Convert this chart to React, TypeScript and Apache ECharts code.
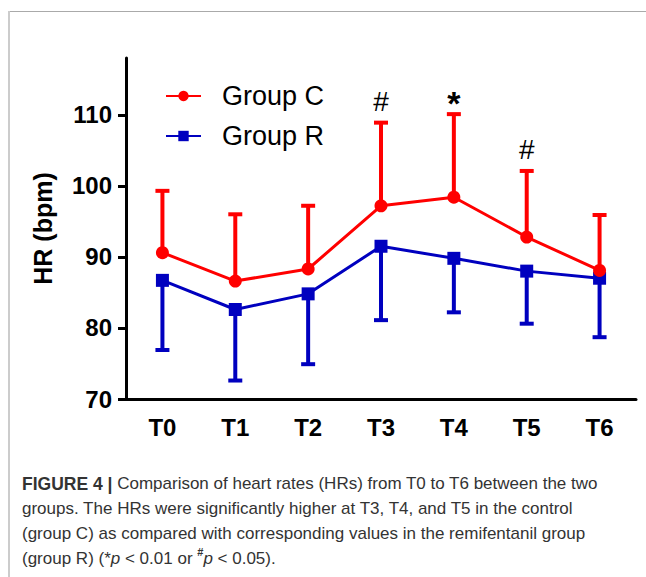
import React, { useEffect, useRef } from "react";
import * as echarts from "echarts";

const categories = ["T0", "T1", "T2", "T3", "T4", "T5", "T6"];
const groupCMean = [90.6, 86.6, 88.3, 97.2, 98.4, 92.8, 88.1];
const groupCUpper = [99.3, 96.0, 97.2, 108.9, 110.1, 102.1, 95.9];
const groupRMean = [86.7, 82.6, 84.8, 91.5, 89.8, 88.0, 87.0];
const groupRLower = [76.9, 72.6, 74.9, 81.1, 82.2, 80.6, 78.7];
const yTicks = [70, 80, 90, 100, 110];
const sigIndex = [3, 4, 5];
const sigMarks = ["#", "*", "#"];
const sigValues = [111.9, 111.6, 105.1];

const RED = "#FF0000";
const BLUE = "#0000BF";
const FONT = "'Liberation Sans', Arial, sans-serif";

function errorBarRender(color: string) {
  return (params: any, api: any) => {
    const x = api.value(0);
    const m = api.value(1);
    const e = api.value(2);
    const p0 = api.coord([x, m]);
    const p1 = api.coord([x, e]);
    const hw = 7;
    return {
      type: "group",
      children: [
        {
          type: "line",
          shape: { x1: p0[0], y1: p0[1], x2: p1[0], y2: p1[1] },
          style: { stroke: color, lineWidth: 4 },
        },
        {
          type: "line",
          shape: { x1: p1[0] - hw, y1: p1[1], x2: p1[0] + hw, y2: p1[1] },
          style: { stroke: color, lineWidth: 4 },
        },
      ],
    };
  };
}

export default function App() {
  const ref = useRef<HTMLDivElement>(null);
  useEffect(() => {
    if (!ref.current) return;
    const chart = echarts.init(ref.current, undefined, { renderer: "svg" });
    const caption =
      "{b|FIGURE 4 |} Comparison of heart rates (HRs) from T0 to T6 between the two\n" +
      "groups. The HRs were significantly higher at T3, T4, and T5 in the control\n" +
      "(group C) as compared with corresponding values in the remifentanil group\n" +
      "(group R) (*{i|p} < 0.01 or {s|#}{i|p} < 0.05).";
    chart.setOption({
      animation: false,
      backgroundColor: "#fff",
      grid: { left: 126, right: 10, top: 58, bottom: 178, containLabel: false },
      legend: {
        orient: "vertical",
        left: 160,
        top: 76,
        itemWidth: 35,
        itemHeight: 13,
        itemGap: 10,
        data: ["Group C", "Group R"],
        textStyle: {
          fontFamily: FONT,
          fontSize: 27,
          color: "#000",
          lineHeight: 30,
          padding: [0, 0, 0, 16],
        },
      },
      xAxis: {
        type: "category",
        data: categories,
        boundaryGap: true,
        axisLine: { lineStyle: { color: "#000", width: 3 } },
        axisTick: { alignWithLabel: true, length: 7, lineStyle: { width: 3, color: "#000" } },
        axisLabel: {
          fontFamily: FONT,
          fontWeight: "bold",
          fontSize: 24,
          color: "#000",
          margin: 16,
        },
      },
      yAxis: {
        type: "value",
        min: 70,
        max: 118,
        interval: 10,
        name: "HR (bpm)",
        nameLocation: "middle",
        nameGap: 71,
        nameTextStyle: { fontFamily: FONT, fontWeight: "bold", fontSize: 25, color: "#000" },
        splitLine: { show: false },
        axisLine: { show: true, lineStyle: { color: "#000", width: 3 } },
        axisTick: { show: true, length: 8, lineStyle: { width: 3, color: "#000" }, customValues: yTicks },
        axisLabel: {
          fontFamily: FONT,
          fontWeight: "bold",
          fontSize: 24,
          color: "#000",
          margin: 14,
          customValues: yTicks,
        },
      },
      series: [
        {
          type: "custom",
          name: "errR",
          renderItem: errorBarRender(BLUE),
          data: categories.map((c, i) => [i, groupRMean[i], groupRLower[i]]),
          encode: { x: 0, y: [1, 2] },
          silent: true,
        },
        {
          type: "line",
          name: "Group R",
          data: groupRMean,
          symbol: "rect",
          symbolSize: 13,
          lineStyle: { color: BLUE, width: 3 },
          itemStyle: { color: BLUE },
        },
        {
          type: "custom",
          name: "errC",
          renderItem: errorBarRender(RED),
          data: categories.map((c, i) => [i, groupCMean[i], groupCUpper[i]]),
          encode: { x: 0, y: [1, 2] },
          silent: true,
        },
        {
          type: "line",
          name: "Group C",
          data: groupCMean,
          symbol: "circle",
          symbolSize: 13,
          lineStyle: { color: RED, width: 3 },
          itemStyle: { color: RED },
        },
        {
          type: "custom",
          name: "sig",
          data: sigIndex.map((i, k) => [i, sigValues[k]]),
          encode: { x: 0, y: 1 },
          silent: true,
          renderItem: (params: any, api: any) => {
            const p = api.coord([api.value(0), api.value(1)]);
            const t = sigMarks[params.dataIndex];
            const star = t === "*";
            return {
              type: "text",
              x: p[0],
              y: p[1],
              style: {
                text: t,
                fontFamily: FONT,
                fontSize: star ? 34 : 28,
                fontWeight: star ? "bold" : "normal",
                fill: "#000",
                align: "center",
                verticalAlign: "middle",
              },
            };
          },
        },
      ],
      graphic: [
        {
          type: "line",
          shape: { x1: 8, y1: 11.5, x2: 646, y2: 11.5 },
          style: { stroke: "#aaaaaa", lineWidth: 1 },
          silent: true,
        },
        {
          type: "line",
          shape: { x1: 9, y1: 11, x2: 9, y2: 577 },
          style: { stroke: "#cccccc", lineWidth: 2 },
          silent: true,
        },
        {
          type: "text",
          left: 22,
          top: 471,
          silent: true,
          style: {
            text: caption,
            fontFamily: FONT,
            fontSize: 17,
            lineHeight: 25,
            fill: "#333",
            rich: {
              b: { fontFamily: FONT, fontSize: 17.5, fontWeight: "bold", lineHeight: 25, fill: "#333" },
              i: { fontFamily: FONT, fontSize: 17, fontStyle: "italic", lineHeight: 25, fill: "#333" },
              s: { fontFamily: FONT, fontSize: 11, fontWeight: "bold", lineHeight: 25, fill: "#333", verticalAlign: "top" },
            },
          },
        },
      ],
    });
    return () => chart.dispose();
  }, []);
  return (
    <div
      ref={ref}
      style={{ position: "absolute", left: 0, top: 0, width: 646, height: 577, background: "#fff" }}
    />
  );
}
